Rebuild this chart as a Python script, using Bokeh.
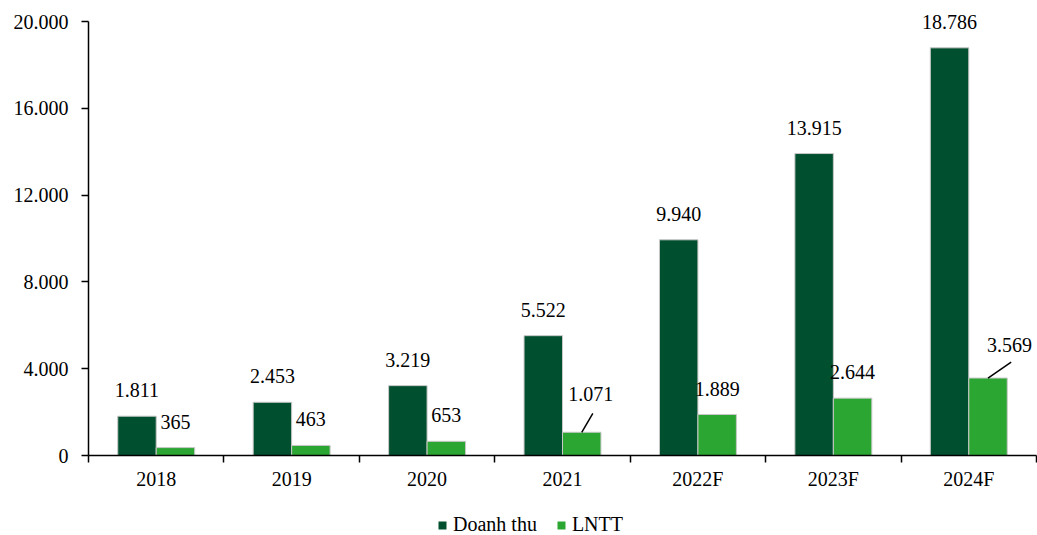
from bokeh.plotting import figure
from bokeh.layouts import column
from bokeh.models import Range1d, FixedTicker, Legend, LegendItem, ColumnDataSource
from bokeh.embed import file_html
from bokeh.resources import INLINE
from bokeh.core.properties import value
import numpy as np

categories = ["2018", "2019", "2020", "2021", "2022F", "2023F", "2024F"]
doanh_thu = [1811, 2453, 3219, 5522, 9940, 13915, 18786]
lntt = [365, 463, 653, 1071, 1889, 2644, 3569]
y_ticks = [0, 4000, 8000, 12000, 16000, 20000]
series_names = ["Doanh thu", "LNTT"]

def fmt(v):
    return f"{v:,}".replace(",", ".")

DARK = "#00502F"
LIGHT = "#2CA632"
FONT = "Liberation Serif"
FS = "20px"

BAR_W = 0.284
DODGE = 0.142
LAB_OFF = -26

# layout: axis top (20000) at y=21, axis bottom (0) at y=455; frame extends above for labels
FIG_H = 500
TOP = 4
BOTTOM = 45
AXIS_PX = 434
frame_h = FIG_H - TOP - BOTTOM
y_max = y_ticks[-1]
y_end = y_max * frame_h / AXIS_PX

idx = np.arange(len(categories)) + 0.5

p = figure(width=1037, height=FIG_H, output_backend="svg", toolbar_location=None,
           x_range=Range1d(0, len(categories)), y_range=Range1d(0, y_end),
           min_border_left=88, min_border_right=1, min_border_top=TOP, min_border_bottom=BOTTOM)
p.outline_line_color = None
p.xgrid.visible = False
p.ygrid.visible = False

src_d = ColumnDataSource(dict(x=idx - DODGE, top=doanh_thu, lab=[fmt(v) for v in doanh_thu]))
src_l = ColumnDataSource(dict(x=idx + DODGE, top=lntt, lab=[fmt(v) for v in lntt]))

p.vbar(x="x", top="top", width=BAR_W, source=src_d, fill_color=DARK, line_color="#c8c8c8", line_width=1)
p.vbar(x="x", top="top", width=BAR_W, source=src_l, fill_color=LIGHT, line_color="#c8c8c8", line_width=1)

p.text(x="x", y="top", text="lab", source=src_d, text_align="center", text_baseline="alphabetic",
       y_offset=LAB_OFF, text_font=value(FONT), text_font_size=FS, text_color="black")

# light labels: some are moved with leader lines (style offsets per category)
moved = {"2021": (9, -38, 0.082, 875), "2024F": (21.5, -33.5, 0.171, 737)}
src_l.data["xo"] = [moved.get(c, (0, LAB_OFF, 0, 0))[0] for c in categories]
src_l.data["yo"] = [moved.get(c, (0, LAB_OFF, 0, 0))[1] for c in categories]
p.text(x="x", y="top", text="lab", source=src_l, text_align="center", text_baseline="alphabetic",
       x_offset="xo", y_offset="yo", text_font=value(FONT), text_font_size=FS, text_color="black")

mi = [categories.index(c) for c in moved]
lx0 = [idx[i] + DODGE for i in mi]
ly0 = [lntt[i] for i in mi]
lx1 = [lx0[k] + moved[c][2] for k, c in enumerate(moved)]
ly1 = [ly0[k] + moved[c][3] for k, c in enumerate(moved)]
p.segment(x0=lx0, y0=ly0, x1=lx1, y1=ly1, line_color="black", line_width=1.5)

# axes
xa = p.xaxis[0]
xa.ticker = FixedTicker(ticks=list(idx), minor_ticks=list(range(len(categories) + 1)))
xa.major_label_overrides = {float(t): c for t, c in zip(idx, categories)}
xa.major_tick_line_color = None
xa.major_tick_out = 0
xa.major_tick_in = 0
xa.minor_tick_out = 7
xa.minor_tick_in = 0
xa.minor_tick_line_color = "black"
xa.minor_tick_line_width = 1.5
xa.axis_line_color = "black"
xa.axis_line_width = 1.5
xa.major_label_standoff = 5
xa.major_label_text_font = FONT
xa.major_label_text_font_size = FS
xa.major_label_text_color = "black"

ya = p.yaxis[0]
ya.ticker = FixedTicker(ticks=y_ticks)
ya.bounds = (0, y_max)
ya.major_label_overrides = {t: fmt(t) for t in y_ticks}
ya.major_tick_out = 7
ya.major_tick_in = 0
ya.major_tick_line_color = "black"
ya.major_tick_line_width = 1.5
ya.minor_tick_line_color = None
ya.axis_line_color = "black"
ya.axis_line_width = 1.5
ya.major_label_standoff = 13
ya.major_label_text_font = FONT
ya.major_label_text_font_size = FS
ya.major_label_text_color = "black"

# legend strip (zero-height proxy bars only carry the legend swatch styles)
lg = figure(width=1037, height=35, output_backend="svg", toolbar_location=None,
            x_range=Range1d(0, 1), y_range=Range1d(0, 1), x_axis_type=None, y_axis_type=None,
            min_border_left=0, min_border_right=0, min_border_top=0, min_border_bottom=0)
lg.outline_line_color = None
lg.xgrid.visible = False
lg.ygrid.visible = False
d1 = lg.vbar(x=[0], top=[0], bottom=[0], width=0, fill_color=DARK, line_color=None)
d2 = lg.vbar(x=[0], top=[0], bottom=[0], width=0, fill_color=LIGHT, line_color=None)
legend = Legend(items=[LegendItem(label=series_names[0], renderers=[d1]),
                       LegendItem(label=series_names[1], renderers=[d2])],
                orientation="horizontal", location=(349, -1), glyph_width=10, glyph_height=10,
                label_standoff=6, spacing=19, label_text_font=FONT, label_text_font_size=FS,
                label_text_color="black", label_height=14, label_text_baseline="middle",
                border_line_color=None, background_fill_alpha=0, padding=0, margin=0)
lg.add_layout(legend, "center")

layout = column(p, lg, spacing=0)
open("out.html", "w").write(file_html(layout, INLINE))
